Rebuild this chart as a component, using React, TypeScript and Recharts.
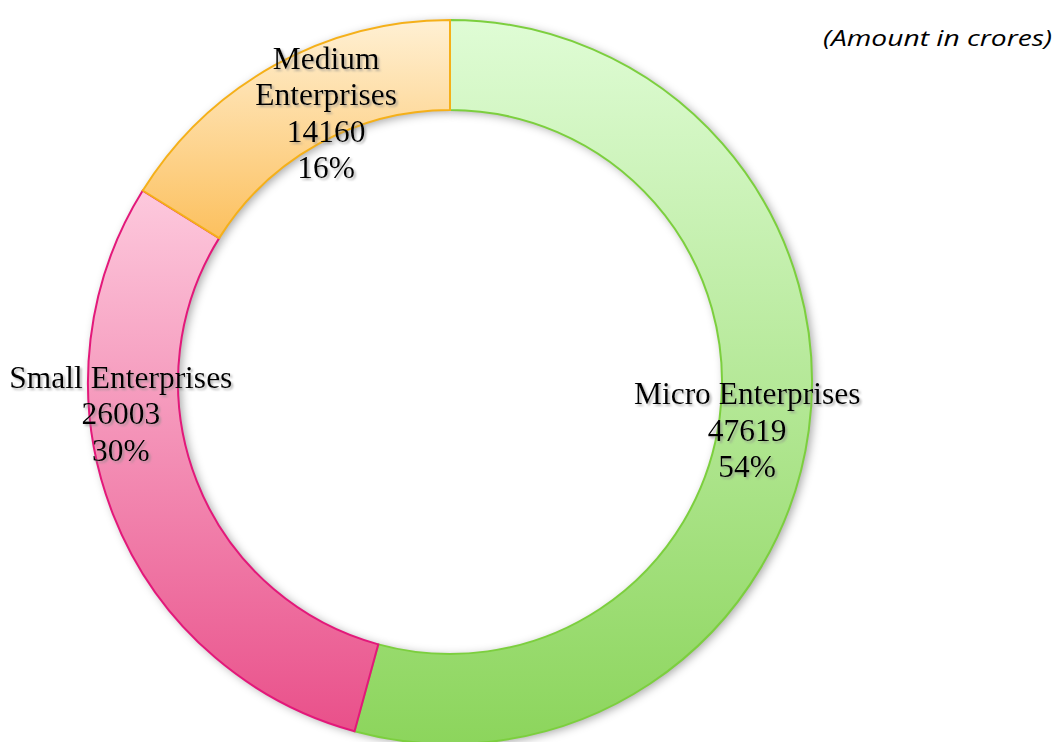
import React from "react";
import { PieChart, Pie, Cell } from "recharts";

const categories = ["Micro Enterprises", "Small Enterprises", "Medium Enterprises"];
const amounts = [47619, 26003, 14160];

const gradients = [
  { id: "gMicro", top: "#dffcd5", bottom: "#8cd55c", stroke: "#7ccf3e" },
  { id: "gSmall", top: "#fdc9dd", bottom: "#e9508a", stroke: "#e3187a" },
  { id: "gMedium", top: "#fff0d3", bottom: "#fcc05e", stroke: "#f5b019" },
];

// labels that break after the first word
const wrapped = ["Medium Enterprises"];
// nudges from the ring midpoint, per slice
const labelShift: Record<string, [number, number]> = {
  "Micro Enterprises": [-17, 6],
  "Small Enterprises": [-34, -84],
  "Medium Enterprises": [30, 8],
};

const data = categories.map((name, i) => ({ name, value: amounts[i] }));

const RAD = Math.PI / 180;
const LINE = 36.5;

const renderLabel = (props: any) => {
  const { cx, cy, midAngle, innerRadius, outerRadius, percent, name, value } = props;
  const r = (innerRadius + outerRadius) / 2;
  const [dx, dy] = labelShift[name] || [0, 0];
  const x = cx + r * Math.cos(-midAngle * RAD) + dx;
  const y = cy + r * Math.sin(-midAngle * RAD) + dy;
  const nameLines = wrapped.includes(name) ? name.split(" ") : [name];
  const lines = [...nameLines, String(value), `${Math.round(percent * 100)}%`];
  const n = lines.length;
  return (
    <text
      x={x}
      y={y}
      textAnchor="middle"
      fill="#000"
      fontFamily="'Liberation Serif', 'Times New Roman', serif"
      fontSize={31.5}
      filter="url(#txtShadow)"
    >
      {lines.map((l, i) => (
        <tspan key={i} x={x} y={y + (i - (n - 1) / 2) * LINE} dominantBaseline="central">
          {l}
        </tspan>
      ))}
    </text>
  );
};

export default function App() {
  return (
    <div style={{ position: "absolute", left: 0, top: 0, width: 1058, height: 742, background: "#fff" }}>
      <PieChart width={1058} height={742} margin={{ top: 0, right: 0, bottom: 0, left: 0 }}>
        <defs>
          {gradients.map((g) => (
            <linearGradient key={g.id} id={g.id} x1="0" y1="0" x2="0" y2="1">
              <stop offset="0%" stopColor={g.top} />
              <stop offset="100%" stopColor={g.bottom} />
            </linearGradient>
          ))}
          <filter id="ringBlur" x="-20%" y="-20%" width="140%" height="140%">
            <feGaussianBlur stdDeviation="5" />
          </filter>
          <filter id="txtShadow" x="-10%" y="-10%" width="120%" height="130%">
            <feDropShadow dx="2" dy="2" stdDeviation="1" floodColor="#888" floodOpacity="0.6" />
          </filter>
        </defs>
        {/* shadow ring */}
        <Pie
          data={data}
          dataKey="value"
          nameKey="name"
          cx={453}
          cy={384}
          innerRadius={272}
          outerRadius={362}
          startAngle={90}
          endAngle={-270}
          stroke="none"
          isAnimationActive={false}
          legendType="none"
        >
          {data.map((d) => (
            <Cell key={d.name} fill="#000" fillOpacity={0.35} filter="url(#ringBlur)" />
          ))}
        </Pie>
        <Pie
          data={data}
          dataKey="value"
          nameKey="name"
          cx={450}
          cy={382}
          innerRadius={272}
          outerRadius={362}
          startAngle={90}
          endAngle={-270}
          isAnimationActive={false}
          label={renderLabel}
          labelLine={false}
        >
          {data.map((d, i) => (
            <Cell key={d.name} fill={`url(#${gradients[i].id})`} stroke={gradients[i].stroke} strokeWidth={2} />
          ))}
        </Pie>
        <text
          x={823}
          y={38}
          dominantBaseline="central"
          fontFamily="'Open Sans', sans-serif"
          fontStyle="italic"
          fontSize={21}
          textLength={229}
          lengthAdjust="spacingAndGlyphs"
          fill="#000"
        >
          (Amount in crores)
        </text>
      </PieChart>
    </div>
  );
}
